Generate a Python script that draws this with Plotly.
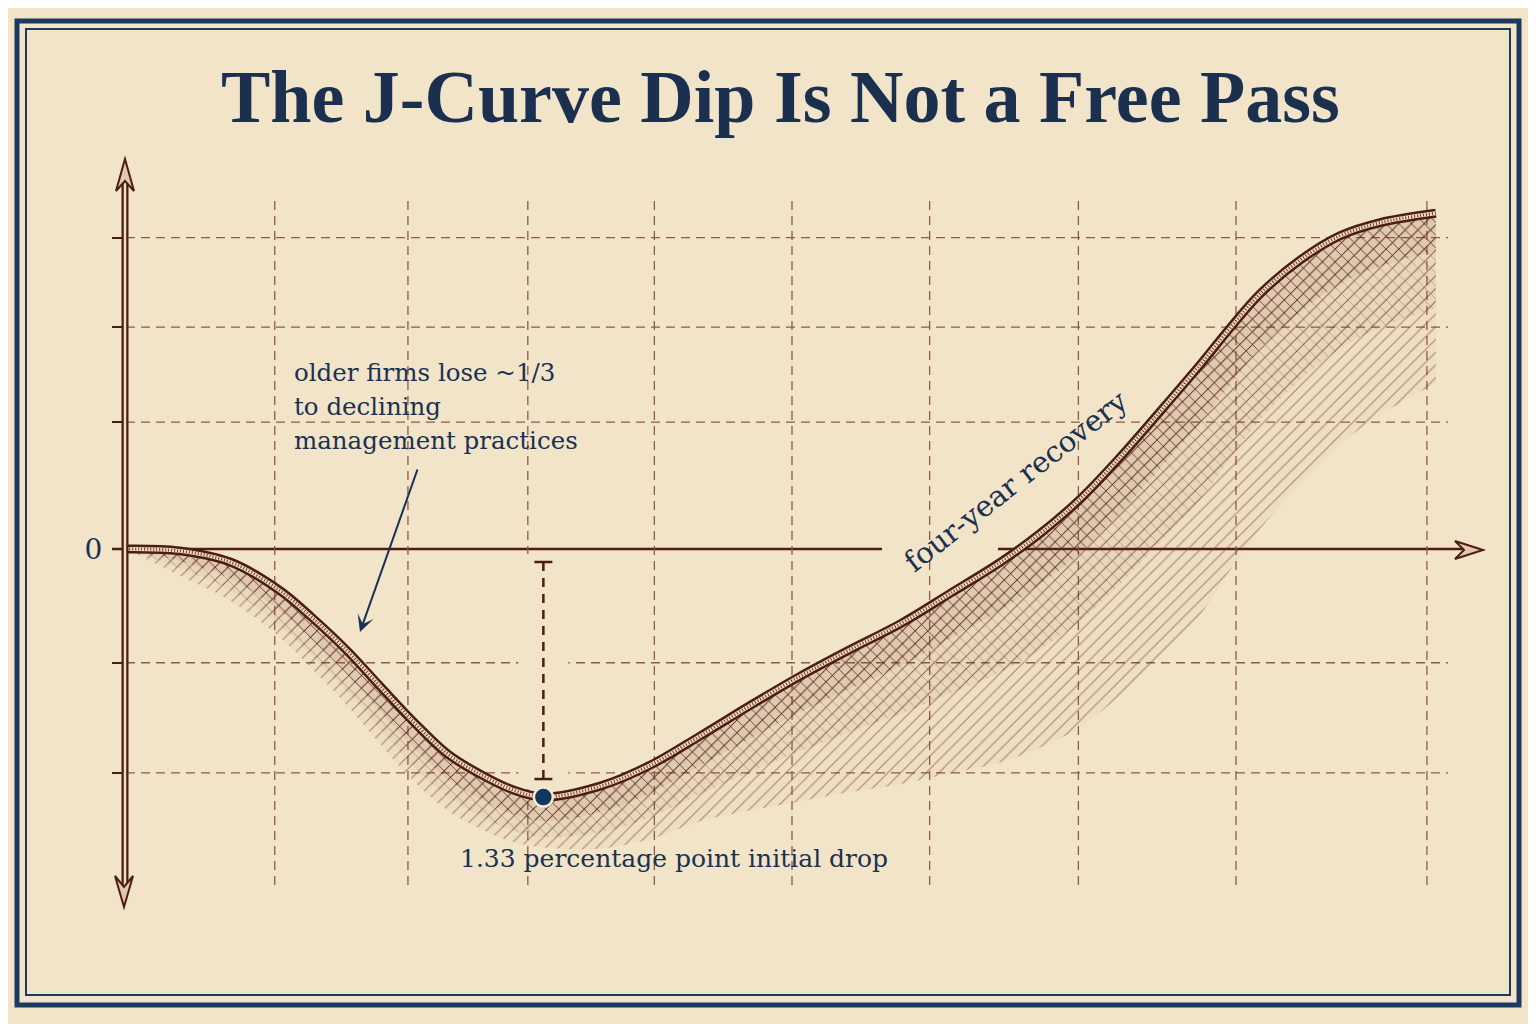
import numpy as np
import plotly.graph_objects as go

# ---------------- data ----------------
years = [0.0, 0.24, 0.47, 0.69, 0.84, 1.0, 1.14, 1.29, 1.45, 1.6, 1.74, 1.88,
         2.14, 2.36, 2.59, 2.81, 3.04, 3.26, 3.49, 3.71, 3.94, 4.12, 4.3, 4.48,
         4.66, 4.84, 4.97, 5.11, 5.29, 5.47, 5.65, 5.9]
productivity_pp = [0.0, -0.01, -0.07, -0.22, -0.37, -0.55, -0.73, -0.92, -1.1,
                   -1.21, -1.29, -1.33, -1.27, -1.16, -1.0, -0.84, -0.68, -0.54,
                   -0.4, -0.24, -0.07, 0.085, 0.27, 0.495, 0.74, 0.99, 1.18, 1.37,
                   1.55, 1.68, 1.75, 1.8]
trough_year = 1.88
trough_pp = -1.33
grid_x = [0.67, 1.27, 1.81, 2.38, 3.0, 3.62, 4.29, 5.0, 5.86]
grid_y = [1.67, 1.19, 0.68, -0.61, -1.2]
zero_tick = [0]
zero_label = ["0"]

title_text = "The J-Curve Dip Is Not a Free Pass"
note_lines = ["older firms lose ~1/3", "to declining", "management practices"]
recovery_text = "four-year recovery"
drop_text = "1.33 percentage point initial drop"

# ---------------- styling / layout constants ----------------
OFF = 8                      # page body margin of the browser
W, H = 1536 - OFF, 1024 - OFF
L, R, T, B = 126 - OFF, 56, 160 - OFF, 118
PX_PER_YEAR = 222.0
PX_PER_PP = 186.5
ZERO_PY = 549                # reference pixel row of the zero line
PLOT_W = W - L - R
PLOT_H = H - T - B

BG = "#f2e4c9"
NAVY = "#1a3152"
BROWN = "#4b1d16"
GRID = "#8c5b47"
LIGHT = "#f0dec2"
SERIF = "DejaVu Serif, Liberation Serif, serif"
TITLE_FONT = "Liberation Serif, DejaVu Serif, serif"

x_range = [0, PLOT_W / PX_PER_YEAR]
y_range = [-(T + OFF + PLOT_H - ZERO_PY) / PX_PER_PP, (ZERO_PY - T - OFF) / PX_PER_PP]


def pxx(xp):  # reference pixel -> paper x
    return (xp - OFF - L) / PLOT_W


def pxy(yp):  # reference pixel -> paper y
    return (H - B - (yp - OFF)) / PLOT_H


def dx(xp):  # reference pixel -> data x
    return (xp - 126) / PX_PER_YEAR


def dy(yp):  # reference pixel -> data y
    return (ZERO_PY - yp) / PX_PER_PP


xs = np.array(years)
ys = np.array(productivity_pp)
xpix = 126 + xs * PX_PER_YEAR

# shading depth (pixels) below the curve
ctrl_x = [126, 200, 300, 400, 545, 700, 800, 900, 1000, 1100, 1200, 1300, 1435]
outer_d = [0, 34, 50, 60, 50, 85, 125, 160, 200, 235, 250, 225, 170]
mid_d = [0, 24, 38, 44, 40, 58, 75, 90, 110, 125, 135, 120, 95]
inner_d = [0, 14, 22, 26, 24, 30, 36, 42, 48, 55, 58, 52, 38]

fig = go.Figure()

layers = [
    (outer_d, "/", "#6e3426", 0.55, 9, 0.12, "rgba(120,60,40,0.03)"),
    (mid_d, "x", "#5e2a1e", 0.55, 9, 0.12, "rgba(120,60,40,0.05)"),
    (inner_d, "x", "#4a1c12", 0.9, 9, 0.13, "rgba(110,50,30,0.08)"),
]
for depth, shp, fg, op, size, sol, bgc in layers:
    low = ys - np.interp(xpix, ctrl_x, depth) / PX_PER_PP
    fig.add_trace(go.Scatter(x=years, y=low, mode="lines", line=dict(width=0, shape="spline"),
                             hoverinfo="skip", showlegend=False))
    fig.add_trace(go.Scatter(x=years, y=productivity_pp, mode="lines", line=dict(width=0, shape="spline"),
                             fill="tonexty", fillcolor="rgba(0,0,0,0)",
                             fillpattern=dict(shape=shp, fgcolor=fg, bgcolor=bgc,
                                              fgopacity=op, size=size, solidity=sol),
                             hoverinfo="skip", showlegend=False))

# engraved curve line
fig.add_trace(go.Scatter(x=years, y=productivity_pp, mode="lines",
                         line=dict(color=BROWN, width=9, shape="spline"), hoverinfo="skip", showlegend=False))
fig.add_trace(go.Scatter(x=years, y=productivity_pp, mode="lines",
                         line=dict(color=LIGHT, width=4, shape="spline"), hoverinfo="skip", showlegend=False))
fig.add_trace(go.Scatter(x=years, y=productivity_pp, mode="lines",
                         line=dict(color="#6a3326", width=3, dash="1px,2px", shape="spline"),
                         hoverinfo="skip", showlegend=False))

# trough point
fig.add_trace(go.Scatter(x=[trough_year], y=[trough_pp], mode="markers",
                         marker=dict(size=19, color="#12375e", line=dict(color="#f5e8d0", width=2.5)),
                         hoverinfo="skip", showlegend=False))

shapes = []
# frame
shapes.append(dict(type="rect", xref="paper", yref="paper", x0=pxx(17), x1=pxx(1519), y0=pxy(21), y1=pxy(1005),
                   line=dict(color="#1c3a60", width=5), layer="below"))
shapes.append(dict(type="rect", xref="paper", yref="paper", x0=pxx(26), x1=pxx(1510), y0=pxy(29), y1=pxy(995),
                   line=dict(color="#1c3a60", width=2), layer="below"))
# gridlines
for gx in grid_x:
    shapes.append(dict(type="line", xref="x", yref="y", x0=gx, x1=gx, y0=dy(885), y1=dy(198),
                       line=dict(color=GRID, width=1.3, dash="9px,6px"), layer="below"))
for gy in grid_y:
    shapes.append(dict(type="line", xref="x", yref="y", x0=0, x1=dx(1448), y0=gy, y1=gy,
                       line=dict(color=GRID, width=1.3, dash="9px,6px"), layer="below"))
# clear gridlines behind the drop marker
shapes.append(dict(type="rect", xref="x", yref="y", x0=trough_year - 25 / PX_PER_YEAR,
                   x1=trough_year + 25 / PX_PER_YEAR, y0=trough_pp + 8 / PX_PER_PP, y1=-5 / PX_PER_PP,
                   line=dict(width=0), fillcolor=BG, layer="below"))
# drop marker
top_m = 0 - 13 / PX_PER_PP
bot_m = trough_pp + 18 / PX_PER_PP
cap = 9 / PX_PER_YEAR
shapes.append(dict(type="line", xref="x", yref="y", x0=trough_year, x1=trough_year, y0=bot_m, y1=top_m,
                   line=dict(color=BROWN, width=2.5, dash="9px,7px")))
for yy in (top_m, bot_m):
    shapes.append(dict(type="line", xref="x", yref="y", x0=trough_year - cap, x1=trough_year + cap, y0=yy, y1=yy,
                       line=dict(color=BROWN, width=2.5)))

# x axis (interrupted by the rotated label)
for a, b in ((112, 882), (998, 1466)):
    shapes.append(dict(type="line", xref="paper", yref="paper", x0=pxx(a), x1=pxx(b), y0=pxy(549), y1=pxy(549),
                       line=dict(color=BROWN, width=2.5), layer="below"))
# y axis shaft (double line)
shapes.append(dict(type="line", xref="paper", yref="paper", x0=pxx(125), x1=pxx(125), y0=pxy(886), y1=pxy(182),
                   line=dict(color=BROWN, width=7)))
shapes.append(dict(type="line", xref="paper", yref="paper", x0=pxx(125), x1=pxx(125), y0=pxy(886), y1=pxy(182),
                   line=dict(color=LIGHT, width=2.5)))


def arrow_path(pts):
    return "M " + " L ".join(f"{pxx(a):.5f},{pxy(b):.5f}" for a, b in pts) + " Z"


arrows = [
    [(125, 159), (134, 191), (125, 181), (116, 191)],
    [(124, 907), (133, 876), (124, 887), (115, 876)],
    [(1483, 550), (1455, 541), (1464, 550), (1455, 559)],
]
for pts in arrows:
    shapes.append(dict(type="path", xref="paper", yref="paper", path=arrow_path(pts),
                       line=dict(color=BROWN, width=2), fillcolor="#e2c8ac"))

annotations = [
    dict(text=f"<b>{title_text}</b>", xref="paper", yref="paper", x=pxx(780), y=pxy(97),
         xanchor="center", yanchor="middle", showarrow=False,
         font=dict(family=TITLE_FONT, size=74, color="#1b2f4e")),
    dict(text="", x=dx(360), y=dy(632), xref="x", yref="y", ax=58, ay=-164, showarrow=True,
         arrowhead=3, arrowsize=1.4, arrowwidth=2, arrowcolor=NAVY),
    dict(text=recovery_text, xref="paper", yref="paper", x=pxx(1016), y=pxy(481), textangle=-38,
         showarrow=False, font=dict(family=SERIF, size=29, color=NAVY)),
    dict(text=drop_text, xref="paper", yref="paper", x=pxx(674), y=pxy(858), xanchor="center", yanchor="middle",
         showarrow=False, font=dict(family=SERIF, size=25, color=NAVY)),
]
for i, line in enumerate(note_lines):
    annotations.append(dict(text=line, xref="paper", yref="paper", x=pxx(292), y=pxy(372 + 34 * i),
                            xanchor="left", yanchor="middle", align="left", showarrow=False,
                            font=dict(family=SERIF, size=24.5, color=NAVY)))

fig.update_layout(
    width=W, height=H,
    margin=dict(l=L, r=R, t=T, b=B, autoexpand=False),
    paper_bgcolor=BG, plot_bgcolor=BG,
    showlegend=False,
    shapes=shapes,
    annotations=annotations,
    xaxis=dict(range=x_range, showgrid=False, zeroline=False, showticklabels=False, ticks="",
               showline=False, fixedrange=True),
    yaxis=dict(range=y_range, showgrid=False, zeroline=False, showline=False,
               tickvals=grid_y + zero_tick, ticktext=[""] * len(grid_y) + zero_label,
               ticks="outside", ticklen=13, tickwidth=2, tickcolor=BROWN,
               tickfont=dict(family=SERIF, size=28, color=NAVY), ticklabelstandoff=4, fixedrange=True),
)

fig.write_html("out.html")
